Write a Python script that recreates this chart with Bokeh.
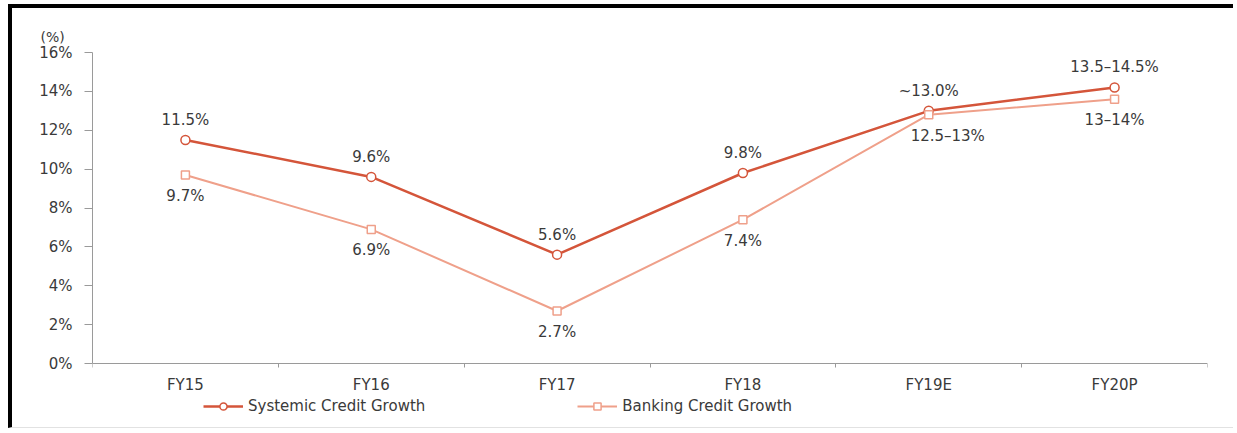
from bokeh.plotting import figure
from bokeh.models import (ColumnDataSource, FixedTicker, Legend, LegendItem)
from bokeh.core.properties import value
from bokeh.embed import file_html
from bokeh.resources import INLINE

categories = ["FY15", "FY16", "FY17", "FY18", "FY19E", "FY20P"]
systemic = [11.5, 9.6, 5.6, 9.8, 13.0, 14.2]
banking = [9.7, 6.9, 2.7, 7.4, 12.8, 13.6]
systemic_labels = ["11.5%", "9.6%", "5.6%", "9.8%", "~13.0%", "13.5–14.5%"]
banking_labels = ["9.7%", "6.9%", "2.7%", "7.4%", "12.5–13%", "13–14%"]
y_ticks = [0, 2, 4, 6, 8, 10, 12, 14, 16]

FONT = "DejaVu Sans"
TXT = "#3a3a3a"
SYS_C = "#D4553A"
BANK_C = "#EFA08A"

xs = [i + 0.5 for i in range(len(categories))]

src_s = ColumnDataSource(dict(x=xs, y=systemic, t=systemic_labels))
src_b = ColumnDataSource(dict(x=xs, y=banking, t=banking_labels,
                              dx=[0, 0, 0, 0, 19, 0]))

# frame extends below 0 so the x axis (fixed at 0) and legend sit inside it
Y_LOW = -16 * 64 / 311

p = figure(width=1225, height=424, output_backend="svg", toolbar_location=None,
           x_range=(0, len(categories)), y_range=(Y_LOW, 16),
           min_border_left=80, min_border_right=30, min_border_top=44,
           min_border_bottom=5, title="(%)")
p.styles = {"border-left": "4px solid black", "border-top": "4px solid black",
            "border-bottom": "1px solid #e2e2e2",
            "margin-left": "8px", "margin-top": "4px"}
p.outline_line_color = None
p.xgrid.grid_line_color = None
p.ygrid.grid_line_color = None
p.background_fill_color = "white"
p.border_fill_color = "white"

p.title.align = "left"
p.title.offset = -52
p.title.standoff = 16
p.title.text_font = FONT
p.title.text_font_size = "14px"
p.title.text_font_style = "normal"
p.title.text_color = TXT

# x axis, drawn at y = 0
p.xaxis.fixed_location = 0
p.xaxis.ticker = FixedTicker(ticks=xs, minor_ticks=list(range(len(categories) + 1)))
p.xaxis.major_label_overrides = {x: c for x, c in zip(xs, categories)}
p.xaxis.major_tick_out = 0
p.xaxis.major_tick_in = 0
p.xaxis.minor_tick_out = 4
p.xaxis.minor_tick_in = 0
p.xaxis.major_label_standoff = 8

# y axis
p.yaxis.bounds = (0, 16)
p.yaxis.ticker = FixedTicker(ticks=y_ticks)
p.yaxis.major_label_overrides = {t: f"{t}%" for t in y_ticks}
p.yaxis.major_tick_out = 8
p.yaxis.major_tick_in = 0
p.yaxis.minor_tick_out = 0
p.yaxis.minor_tick_in = 0
p.yaxis.major_label_standoff = 12

for ax in (p.xaxis, p.yaxis):
    ax.axis_line_color = "#9a9a9a"
    ax.major_tick_line_color = "#9a9a9a"
    ax.minor_tick_line_color = "#9a9a9a"
    ax.major_label_text_font = FONT
    ax.major_label_text_font_size = "15px"
    ax.major_label_text_color = TXT

# series
ls = p.line("x", "y", source=src_s, line_color=SYS_C, line_width=2.5)
ms = p.scatter("x", "y", source=src_s, marker="circle", size=9,
               fill_color="white", line_color=SYS_C, line_width=1.5)
lb = p.line("x", "y", source=src_b, line_color=BANK_C, line_width=2)
mb = p.scatter("x", "y", source=src_b, marker="square", size=8,
               fill_color="white", line_color=BANK_C, line_width=1.5)

p.text("x", "y", text="t", source=src_s, y_offset=-20, text_align="center",
       text_baseline="middle", text_font=value(FONT), text_font_size="15px",
       text_color=TXT)
p.text("x", "y", text="t", source=src_b, x_offset="dx", y_offset=21,
       text_align="center", text_baseline="middle", text_font=value(FONT),
       text_font_size="15px", text_color=TXT)

legend = Legend(items=[
    LegendItem(label="Systemic Credit Growth", renderers=[ls, ms]),
    LegendItem(label="Banking Credit Growth", renderers=[lb, mb]),
], location=(111, 12), orientation="horizontal")
legend.spacing = 152
legend.padding = 0
legend.margin = 0
legend.glyph_width = 40
legend.glyph_height = 18
legend.label_standoff = 5
legend.label_text_font = FONT
legend.label_text_font_size = "15px"
legend.label_text_color = TXT
legend.border_line_color = None
legend.background_fill_alpha = 0
p.add_layout(legend, "center")

open("out.html", "w").write(file_html(p, INLINE))
